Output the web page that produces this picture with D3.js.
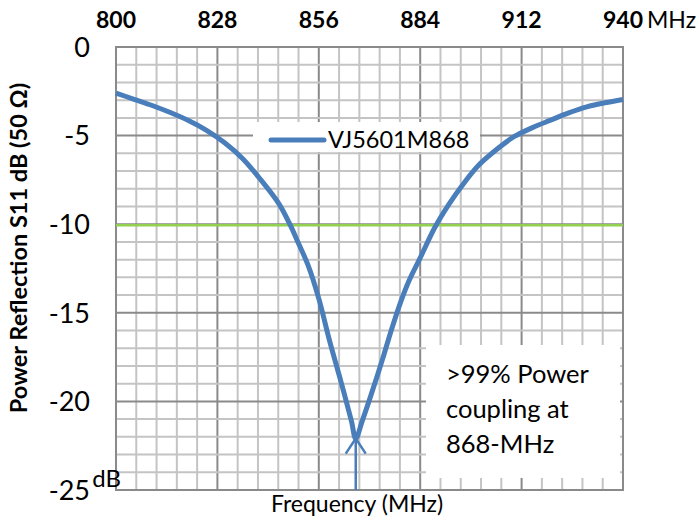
<!DOCTYPE html>
<html><head><meta charset="utf-8">
<script src="https://cdn.jsdelivr.net/npm/d3@7"></script>
<style>body{margin:0;background:#fff}svg{display:block}text{font-family:Lato,"Liberation Sans",sans-serif}</style>
</head><body><div id="chart"></div>
<script>
const freqs = [800,805,810,815,820,825,830,835,840,845,848,850,853,856,859,862,865,866.2,868,870,872,874,876,878.5,881,884,888,892,896,900,905,910,915,920,925,930,935,940];
const s11   = [-2.6,-2.95,-3.3,-3.7,-4.15,-4.7,-5.4,-6.3,-7.5,-8.85,-10.0,-10.9,-12.3,-14.2,-16.6,-18.8,-21.1,-22.1,-21.1,-19.9,-18.65,-17.35,-16.0,-14.45,-13.15,-11.9,-10.2,-8.85,-7.7,-6.7,-5.8,-5.05,-4.55,-4.13,-3.72,-3.38,-3.15,-2.96];
const seriesName = "VJ5601M868";
const xTicks = [800,828,856,884,912,940];
const yTicks = [0,-5,-10,-15,-20,-25];
const thresholdDb = [-10];
const arrowFreq = [866.2];
const arrowTipDb = [-22.1];
const noteLines = [">99% Power","coupling at","868-MHz"];

const W=699,H=520;
const svg=d3.select("#chart").append("svg").attr("width",W).attr("height",H);
const x=d3.scaleLinear().domain([800,940]).range([116,623]);
const y=d3.scaleLinear().domain([-25,0]).range([490,47]);

// grid
const minorX=d3.range(0,26).map(i=>800+i*5.6);
const minorY=d3.range(0,26).map(i=>-i);
const g=svg.append("g");
g.selectAll(".mx").data(minorX).enter().append("line")
 .attr("x1",d=>x(d)).attr("x2",d=>x(d)).attr("y1",y(0)).attr("y2",y(-25))
 .attr("stroke",(d,i)=>i%5===0?"#8a8a8a":"#c4c4c4").attr("stroke-width",2);
g.selectAll(".my").data(minorY).enter().append("line")
 .attr("y1",d=>y(d)).attr("y2",d=>y(d)).attr("x1",x(800)).attr("x2",x(940))
 .attr("stroke",(d,i)=>i%5===0?"#8a8a8a":"#c4c4c4").attr("stroke-width",2);
g.append("rect").attr("x",x(800)).attr("y",y(0)).attr("width",x(940)-x(800)).attr("height",y(-25)-y(0))
 .attr("fill","none").attr("stroke","#8a8a8a").attr("stroke-width",2);

// threshold
svg.selectAll(".thr").data(thresholdDb).enter().append("line")
 .attr("x1",x(800)).attr("x2",x(940)).attr("y1",d=>y(d)+1).attr("y2",d=>y(d)+1)
 .attr("stroke","#92d050").attr("stroke-width",2.5);

// annotation box
svg.append("rect").attr("x",426).attr("y",345).attr("width",194).attr("height",133).attr("fill","#fff");
svg.append("g").selectAll("text").data(noteLines).enter().append("text")
 .attr("x",446).attr("y",(d,i)=>383+i*35).attr("font-size",25.5).attr("fill","#000").text(d=>d);

// legend
svg.append("rect").attr("x",253).attr("y",122).attr("width",227).attr("height",30).attr("fill","#fff");
svg.append("line").attr("x1",271).attr("x2",324).attr("y1",140).attr("y2",140)
 .attr("stroke","#4a7ebb").attr("stroke-width",5).attr("stroke-linecap","round");
svg.append("text").attr("x",328).attr("y",148).attr("font-size",23.5).attr("fill","#000").text(seriesName);

// curve
const data=freqs.map((f,i)=>({f,v:s11[i]}));
svg.append("path").datum(data)
 .attr("d",d3.line().x(d=>x(d.f)).y(d=>y(d.v)).curve(d3.curveCatmullRom.alpha(0.5)))
 .attr("fill","none").attr("stroke","#4a7ebb").attr("stroke-width",5);

// arrow
arrowFreq.forEach((f,i)=>{
  const ax=x(f), ay=y(arrowTipDb[i]);
  svg.append("line").attr("x1",ax).attr("x2",ax).attr("y1",y(-25)).attr("y2",ay)
   .attr("stroke","#4a7ebb").attr("stroke-width",2.5);
  svg.append("path").attr("d",`M${ax-10},${ay+15}L${ax},${ay}L${ax+10},${ay+15}`)
   .attr("fill","none").attr("stroke","#4a7ebb").attr("stroke-width",2.5);
});

// top axis labels
svg.append("g").selectAll("text").data(xTicks).enter().append("text")
 .attr("x",d=>x(d)).attr("y",28).attr("text-anchor","middle").attr("font-size",23).attr("font-weight","bold")
 .attr("fill","#000").text(d=>d);
svg.append("text").attr("x",647).attr("y",28).attr("font-size",23).attr("fill","#000").text("MHz");

// y axis labels
svg.append("g").selectAll("text").data(yTicks).enter().append("text")
 .attr("x",90).attr("y",d=>y(d)).attr("dy","0.36em").attr("text-anchor","end").attr("font-size",27)
 .attr("fill","#000").text(d=>d);
svg.append("text").attr("x",121).attr("y",487).attr("text-anchor","end").attr("font-size",24).attr("fill","#000").text("dB");

// axis titles
svg.append("text").attr("transform","translate(27,248) rotate(-90)").attr("text-anchor","middle")
 .attr("font-size",23.5).attr("font-weight","bold").attr("fill","#000").text("Power Reflection S11 dB (50 Ω)");
svg.append("text").attr("x",357).attr("y",512).attr("text-anchor","middle").attr("font-size",23)
 .attr("fill","#000").text("Frequency (MHz)");
</script></body></html>
